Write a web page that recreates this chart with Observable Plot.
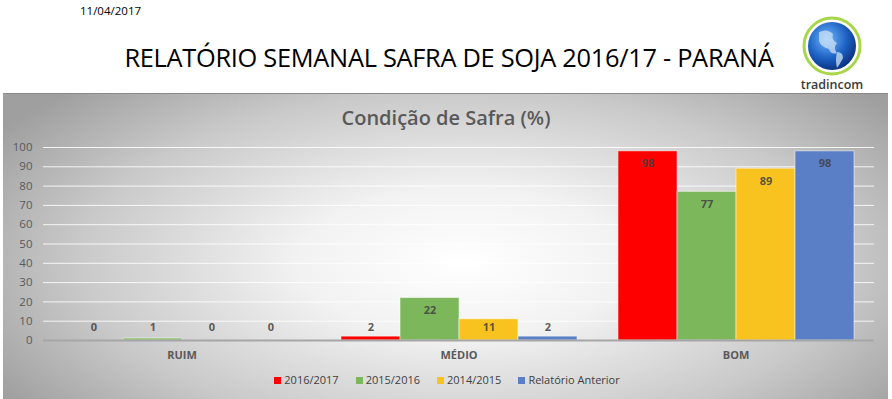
<!DOCTYPE html>
<html>
<head>
<meta charset="utf-8">
<script src="https://cdn.jsdelivr.net/npm/d3@7"></script>
<script src="https://cdn.jsdelivr.net/npm/@observablehq/plot@0.6"></script>
<style>
  html, body { margin: 0; padding: 0; background: #fff; }
  body { width: 892px; height: 399px; position: relative; overflow: hidden; font-family: "Open Sans", sans-serif; }
  #date { position: absolute; left: 80px; top: 3px; font-size: 11.5px; color: #000; }
  #title { position: absolute; left: 0; width: 898px; top: 40px; text-align: center; font-size: 25.4px; color: #000; letter-spacing: -0.3px; }
  #logo { position: absolute; left: 795px; top: 14px; }
  #panel { position: absolute; left: 3px; top: 93px; width: 885px; height: 306px;
    border-top: 1px solid #8a8a8a;
    background: radial-gradient(ellipse 62% 80% at 52% 55%, #ffffff 0%, #f2f2f2 30%, #c9c9c9 70%, #9f9f9f 100%); }
  #ctitle { position: absolute; left: 0; width: 892px; top: 104px; text-align: center; font-size: 20px; font-weight: 600; color: #595959; }
  #chart { position: absolute; left: 0; top: 135px; }
  #legend { position: absolute; left: 0; width: 894px; top: 372px; display: flex; justify-content: center; gap: 17px; font-size: 11px; color: #404040; }
  #legend span.sw { display: inline-block; width: 7px; height: 7px; margin-right: 3px; vertical-align: 0px; }
</style>
</head>
<body>
<div id="date">11/04/2017</div>
<div id="title">RELATÓRIO SEMANAL SAFRA DE SOJA 2016/17 - PARANÁ</div>
<div id="panel"></div>
<svg id="logo" width="74" height="80" viewBox="0 0 74 80" style="overflow:visible">
  <defs>
    <radialGradient id="g1" cx="40%" cy="35%" r="70%">
      <stop offset="0%" stop-color="#6fb6ff"/>
      <stop offset="60%" stop-color="#1b5fc0"/>
      <stop offset="100%" stop-color="#0a2c78"/>
    </radialGradient>
  </defs>
  <circle cx="37" cy="32" r="28" fill="none" stroke="#a8d64a" stroke-width="3"/>
  <circle cx="37" cy="32" r="24" fill="url(#g1)"/>
  <path d="M24 18 q8 -4 14 2 q-2 6 4 9 q-4 5 0 10 q-6 2 -8 -4 q-8 -2 -10 -8 z" fill="#cfe3f5" opacity="0.75"/>
  <path d="M42 38 q6 0 6 6 q-3 6 -6 10 q-2 -8 0 -16 z" fill="#cfe3f5" opacity="0.75"/>
</svg>
<div style="position:absolute; left:795px; width:74px; top:77px; text-align:center; font-size:12.5px; font-weight:600; color:#3a3a3a; line-height:16px;">tradincom</div>
<div id="ctitle">Condição de Safra (%)</div>
<div id="chart"></div>
<div id="legend"></div>
<script>
const categories = ["RUIM", "MÉDIO", "BOM"];
const series = ["2016/2017", "2015/2016", "2014/2015", "Relatório Anterior"];
const values2016_2017 = [0, 2, 98];
const values2015_2016 = [1, 22, 77];
const values2014_2015 = [0, 11, 89];
const valuesAnterior = [0, 2, 98];
const yTicks = [0, 10, 20, 30, 40, 50, 60, 70, 80, 90, 100];
const colors = ["#fe0000", "#7db75b", "#f8c31f", "#5a7fc6"];

const seriesValues = [values2016_2017, values2015_2016, values2014_2015, valuesAnterior];
const data = [];
categories.forEach((cat, i) => {
  series.forEach((s, j) => data.push({cat, series: s, value: seriesValues[j][i]}));
});

const chart = Plot.plot({
  width: 892,
  height: 240,
  marginTop: 12,
  marginBottom: 35,
  marginLeft: 42,
  marginRight: 18,
  style: {background: "transparent", fontFamily: "Open Sans, sans-serif", overflow: "visible"},
  fx: {domain: categories, padding: 0, label: null},
  x: {domain: series, paddingInner: 0, paddingOuter: 0.32, axis: null},
  y: {domain: [0, 100], label: null},
  color: {domain: series, range: colors},
  marks: [
    Plot.gridY(yTicks, {stroke: "#ffffff", strokeOpacity: 0.85, strokeWidth: 1}),
    Plot.axisY(yTicks, {tickSize: 0, tickPadding: 11, fill: "#595959", fontSize: 11.5, label: null}),
    Plot.axisFx({anchor: "bottom", tickSize: 0, tickPadding: 11, fill: "#595959", fontSize: 11, fontWeight: "bold", label: null}),
    Plot.barY(data, {fx: "cat", x: "series", y: "value", fill: "series", stroke: "#ffffff", strokeOpacity: 0.5, strokeWidth: 1}),
    Plot.ruleY([0], {stroke: "#a6a6a6", strokeWidth: 2}),
    Plot.text(data, {fx: "cat", x: "series", y: d => Math.max(d.value, 13), dy: 12.5, text: d => String(d.value),
      fill: "#404040", fillOpacity: 0.85, fontSize: 11, fontWeight: "bold"})
  ]
});
document.getElementById("chart").appendChild(chart);

const legend = document.getElementById("legend");
series.forEach((s, i) => {
  const item = document.createElement("div");
  item.innerHTML = `<span class="sw" style="background:${colors[i]}"></span>${s}`;
  legend.appendChild(item);
});
</script>
</body>
</html>
